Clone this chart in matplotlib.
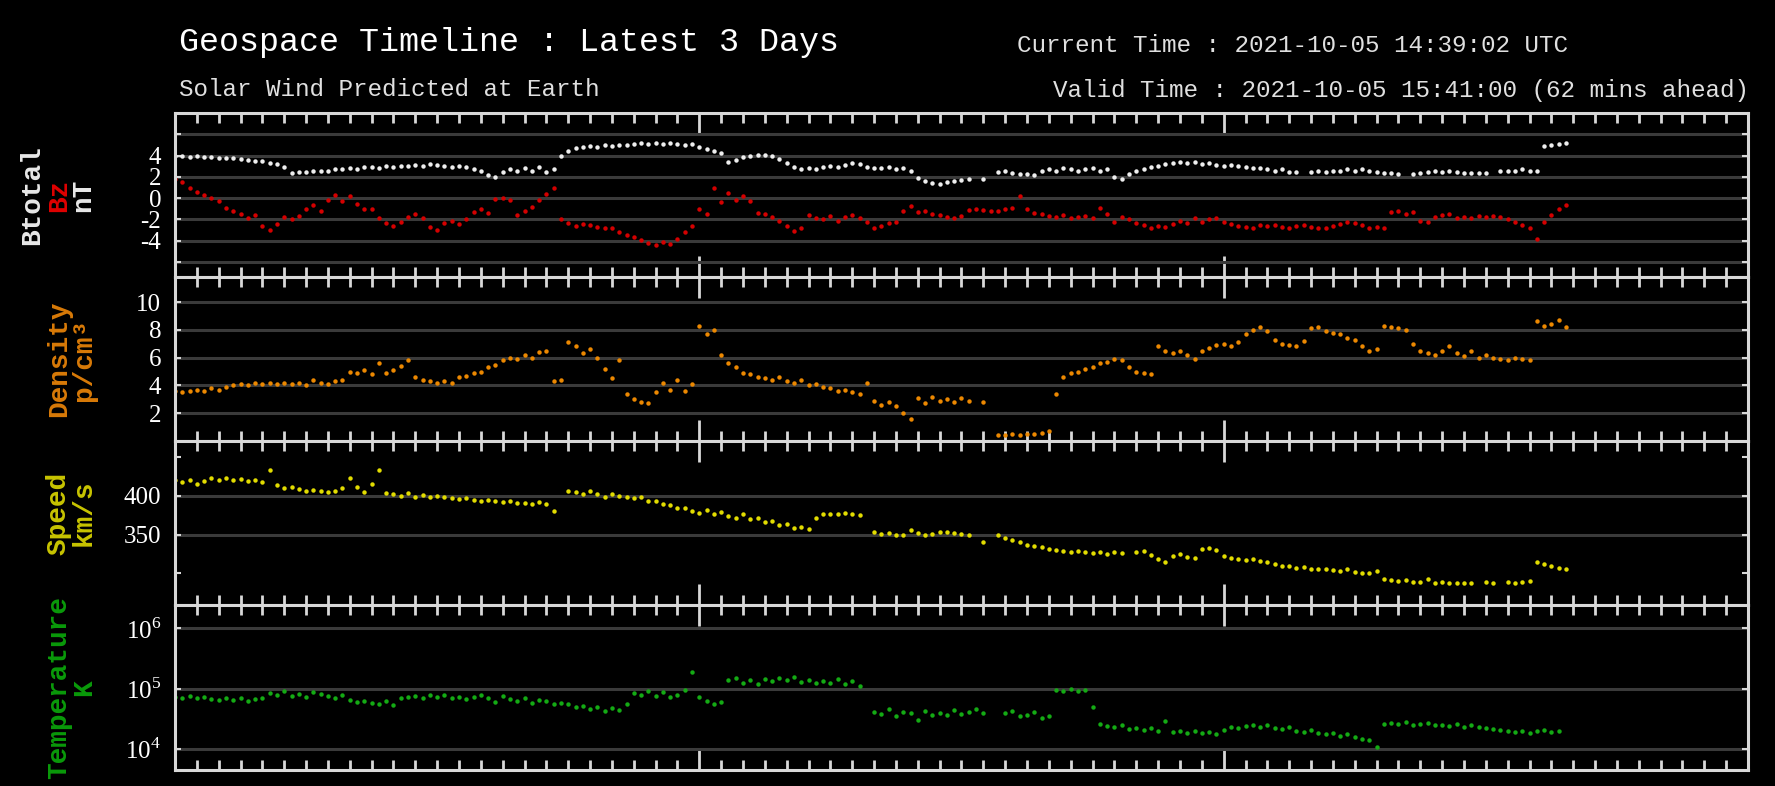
import numpy as np
import pandas as pd
import matplotlib
matplotlib.use('Agg')
import matplotlib.pyplot as plt
import matplotlib.dates as mdates

plt.rcParams['font.family'] = ['Liberation Mono', 'DejaVu Sans']
plt.rcParams['mathtext.fontset'] = 'custom'
plt.rcParams['mathtext.rm'] = 'Liberation Serif'

# 20-minute samples starting 2021-10-03 00:00 UTC
times = pd.date_range('2021-10-03 00:00', periods=192, freq='20min')
nan = None

btotal = [
    4.0, 4.0, 3.9, 4.0, 3.9, 3.9,
    3.8, 3.8, 3.8, 3.7, 3.6, 3.5,
    3.5, 3.3, 3.2, 2.9, 2.4, 2.5,
    2.5, 2.6, 2.6, 2.6, 2.7, 2.7,
    2.8, 2.7, 2.9, 2.9, 2.8, 3.0,
    2.9, 3.0, 3.0, 3.1, 3.0, 3.2,
    3.1, 3.0, 2.9, 3.0, 2.9, 2.7,
    2.6, 2.2, 2.0, 2.5, 2.7, 2.6,
    2.8, 2.6, 2.9, 2.5, 2.7, 4.0,
    4.4, 4.7, 4.8, 4.9, 4.8, 5.0,
    4.9, 5.0, 5.0, 5.1, 5.2, 5.1,
    5.2, 5.1, 5.2, 5.1, 5.0, 5.1,
    4.8, 4.6, 4.4, 4.2, 3.4, 3.6,
    3.9, 4.0, 4.1, 4.1, 4.0, 3.7,
    3.3, 2.9, 2.7, 2.8, 2.7, 2.9,
    3.0, 2.9, 3.1, 3.3, 3.2, 2.9,
    2.8, 2.8, 2.9, 2.7, 2.8, 2.6,
    1.9, 1.6, 1.4, 1.3, 1.5, 1.6,
    1.7, 1.8, nan, 1.8, nan, 2.5,
    2.6, 2.4, 2.3, 2.3, 2.2, 2.6,
    2.7, 2.6, 2.8, 2.7, 2.6, 2.7,
    2.8, 2.6, 2.7, 2.0, 1.8, 2.3,
    2.6, 2.7, 2.9, 3.0, 3.2, 3.3,
    3.4, 3.3, 3.4, 3.2, 3.3, 3.1,
    3.0, 3.1, 3.0, 2.9, 2.8, 2.8,
    2.7, 2.6, 2.7, 2.5, 2.5, nan,
    2.5, 2.6, 2.5, 2.6, 2.6, 2.7,
    2.6, 2.7, 2.6, 2.5, 2.4, 2.4,
    2.3, nan, 2.3, 2.4, 2.5, 2.6,
    2.5, 2.6, 2.5, 2.4, 2.4, 2.4,
    2.4, nan, 2.6, 2.6, 2.6, 2.7,
    2.6, 2.6, 4.9, 5.0, 5.1, 5.2,
]

bz = [
    1.8, 1.5, 1.0, 0.6, 0.3, 0.0,
    -0.3, -0.9, -1.2, -1.5, -1.9, -1.6,
    -2.6, -3.0, -2.4, -1.8, -2.0, -1.7,
    -1.0, -0.6, -1.2, -0.2, 0.3, -0.3,
    0.2, -0.5, -1.0, -1.0, -1.9, -2.3,
    -2.6, -2.2, -1.8, -1.5, -1.9, -2.7,
    -3.0, -2.3, -2.1, -2.4, -2.0, -1.3,
    -1.0, -1.4, -0.1, 0.0, -0.2, -1.6,
    -1.2, -0.8, -0.2, 0.4, 1.0, -2.0,
    -2.3, -2.6, -2.4, -2.5, -2.7, -2.8,
    -2.8, -3.2, -3.5, -3.6, -3.9, -4.2,
    -4.4, -4.1, -4.3, -3.8, -3.2, -2.6,
    -1.0, -1.5, 1.0, -0.4, 0.5, -0.2,
    0.2, -0.3, -1.4, -1.5, -1.8, -2.1,
    -2.6, -3.1, -2.8, -1.6, -1.9, -2.0,
    -1.7, -2.1, -1.8, -1.6, -1.9, -2.2,
    -2.8, -2.6, -2.3, -2.2, -1.2, -0.7,
    -1.3, -1.2, -1.5, -1.6, -1.8, -1.9,
    -1.7, -1.1, -1.0, -1.1, -1.2, -1.2,
    -1.0, -0.9, 0.2, -1.0, -1.4, -1.5,
    -1.7, -1.8, -1.6, -1.9, -1.8, -1.7,
    -1.9, -0.9, -1.5, -2.2, -1.8, -2.0,
    -2.3, -2.5, -2.8, -2.6, -2.7, -2.4,
    -2.1, -2.3, -1.9, -2.2, -2.0, -1.9,
    -2.2, -2.4, -2.6, -2.7, -2.8, -2.5,
    -2.6, -2.5, -2.7, -2.8, -2.6, -2.5,
    -2.7, -2.8, -2.8, -2.6, -2.4, -2.2,
    -2.3, -2.5, -2.8, -2.7, -2.8, -1.3,
    -1.2, -1.5, -1.3, -2.1, -2.2, -1.8,
    -1.6, -1.5, -1.9, -1.8, -1.9, -1.7,
    -1.8, -1.7, -1.8, -2.0, -2.2, -2.5,
    -2.8, -3.8, -2.2, -1.6, -1.0, -0.6,
]

density = [
    3.6, 3.5, 3.6, 3.7, 3.6, 3.8,
    3.7, 3.9, 4.0, 4.1, 4.0, 4.2,
    4.1, 4.2, 4.1, 4.2, 4.1, 4.2,
    4.0, 4.4, 4.2, 4.1, 4.3, 4.4,
    5.0, 4.9, 5.1, 4.8, 5.6, 4.9,
    5.1, 5.4, 5.8, 4.6, 4.4, 4.3,
    4.2, 4.3, 4.2, 4.6, 4.7, 4.9,
    5.0, 5.3, 5.5, 5.8, 6.0, 5.9,
    6.2, 6.0, 6.4, 6.5, 4.3, 4.4,
    7.1, 6.8, 6.3, 6.6, 6.0, 5.2,
    4.5, 5.8, 3.4, 3.0, 2.8, 2.7,
    3.5, 4.2, 3.7, 4.4, 3.6, 4.1,
    8.3, 7.7, 8.0, 6.2, 5.6, 5.3,
    4.9, 4.8, 4.6, 4.5, 4.4, 4.6,
    4.3, 4.2, 4.4, 4.0, 4.1, 3.9,
    3.8, 3.6, 3.7, 3.5, 3.4, 4.2,
    2.9, 2.6, 2.8, 2.5, 2.0, 1.6,
    3.1, 2.7, 3.2, 2.9, 3.0, 2.8,
    3.1, 2.9, nan, 2.8, nan, 0.4,
    0.4, 0.5, 0.4, 0.5, 0.5, 0.6,
    0.7, 3.4, 4.6, 4.9, 5.0, 5.2,
    5.3, 5.6, 5.7, 5.9, 5.8, 5.3,
    5.0, 4.9, 4.8, 6.8, 6.5, 6.3,
    6.5, 6.2, 5.9, 6.5, 6.7, 6.9,
    7.0, 6.8, 7.1, 7.7, 8.0, 8.2,
    7.9, 7.3, 7.0, 6.9, 6.8, 7.2,
    8.1, 8.2, 7.9, 7.8, 7.7, 7.4,
    7.3, 6.8, 6.5, 6.6, 8.3, 8.2,
    8.1, 8.0, 7.0, 6.5, 6.3, 6.2,
    6.5, 6.8, 6.3, 6.1, 6.5, 6.0,
    6.2, 6.0, 5.9, 5.8, 6.0, 5.9,
    5.8, 8.6, 8.3, 8.4, 8.7, 8.2,
]

speed = [
    420, 418, 421, 416, 419, 423,
    421, 423, 420, 422, 419, 421,
    418, 433, 414, 410, 411, 409,
    407, 408, 406, 405, 407, 410,
    423, 412, 405, 415, 433, 404,
    402, 400, 404, 399, 401, 398,
    400, 398, 397, 396, 397, 395,
    394, 395, 393, 392, 393, 391,
    391, 390, 392, 390, 381, nan,
    407, 405, 403, 406, 402, 398,
    403, 400, 399, 397, 398, 394,
    393, 390, 388, 384, 385, 380,
    378, 382, 376, 379, 374, 372,
    377, 370, 372, 366, 368, 362,
    364, 358, 360, 357, 372, 377,
    376, 377, 378, 376, 375, nan,
    353, 351, 352, 350, 349, 356,
    352, 349, 351, 353, 354, 352,
    351, 350, nan, 340, nan, 349,
    346, 343, 340, 337, 335, 334,
    332, 330, 329, 328, 329, 327,
    326, 328, 325, 327, 326, nan,
    328, 329, 323, 318, 315, 322,
    325, 321, 320, 331, 333, 330,
    322, 320, 318, 317, 318, 316,
    314, 312, 309, 310, 307, 308,
    306, 305, 306, 304, 303, 305,
    302, 301, 300, 303, 292, 291,
    290, 291, 289, 289, 292, 288,
    289, 287, 288, 288, 287, nan,
    289, 288, nan, 289, 288, 289,
    290, 314, 312, 310, 307, 305,
]

# log10 of proton temperature in K
temp_log10 = [
    4.87, 4.85, 4.88, 4.84, 4.86, 4.83,
    4.82, 4.85, 4.81, 4.84, 4.80, 4.83,
    4.85, 4.93, 4.90, 4.96, 4.88, 4.91,
    4.87, 4.95, 4.92, 4.88, 4.84, 4.90,
    4.82, 4.78, 4.80, 4.76, 4.74, 4.79,
    4.73, 4.85, 4.87, 4.88, 4.84, 4.89,
    4.86, 4.90, 4.85, 4.87, 4.83, 4.86,
    4.89, 4.85, 4.78, 4.88, 4.83, 4.80,
    4.84, 4.76, 4.82, 4.79, 4.75, 4.77,
    4.74, 4.70, 4.72, 4.66, 4.70, 4.63,
    4.68, 4.64, 4.74, 4.93, 4.90, 4.96,
    4.88, 4.94, 4.86, 4.90, 4.98, 5.28,
    4.86, 4.80, 4.75, 4.78, 5.15, 5.17,
    5.10, 5.14, 5.08, 5.16, 5.12, 5.18,
    5.14, 5.20, 5.11, 5.15, 5.09, 5.13,
    5.10, 5.16, 5.07, 5.12, 5.05, nan,
    4.62, 4.58, 4.66, 4.55, 4.62, 4.60,
    4.48, 4.63, 4.57, 4.60, 4.56, 4.64,
    4.58, 4.62, 4.66, 4.60, nan, nan,
    4.60, 4.63, 4.55, 4.57, 4.62, 4.52,
    4.55, 4.98, 4.97, 4.99, 4.96, 4.98,
    4.70, 4.42, 4.38, 4.36, 4.40, 4.33,
    4.34, 4.31, 4.35, 4.30, 4.46, 4.28,
    4.29, 4.27, 4.30, 4.26, 4.28, 4.24,
    4.32, 4.36, 4.34, 4.38, 4.40, 4.37,
    4.39, 4.35, 4.33, 4.36, 4.30, 4.28,
    4.31, 4.27, 4.25, 4.26, 4.22, 4.24,
    4.20, 4.16, 4.14, 4.04, 4.41, 4.43,
    4.42, 4.44, 4.40, 4.41, 4.43, 4.39,
    4.40, 4.38, 4.41, 4.37, 4.39, 4.36,
    4.35, 4.33, 4.31, 4.30, 4.28, 4.29,
    4.27, 4.29, 4.31, 4.28, 4.30, nan,
]

btotal = np.array(btotal, dtype=float)
bz = np.array(bz, dtype=float)
density = np.array(density, dtype=float)
speed = np.array(speed, dtype=float)
temperature = 10 ** np.array(temp_log10, dtype=float)

W, H = 1775, 786
fig = plt.figure(figsize=(W / 100, H / 100), dpi=100, facecolor='black')

frame_col = '#d8d8d8'
grid_col = '#3a3a3a'
tick_font = dict(family=['Liberation Serif', 'DejaVu Serif'], size=18)

left = 175 / W
width = (1748 - 175) / W
edges = [113, 277, 441, 605, 770]

axes = []
for i in range(4):
    top, bot = edges[i], edges[i + 1]
    ax = fig.add_axes([left, 1 - bot / H, width, (bot - top) / H], facecolor='black')
    for s in ax.spines.values():
        s.set_color(frame_col)
        s.set_linewidth(2.2)
    ax.set_xlim(pd.Timestamp('2021-10-03'), pd.Timestamp('2021-10-06'))
    ax.xaxis.set_major_locator(mdates.DayLocator())
    ax.xaxis.set_minor_locator(mdates.HourLocator())
    ax.tick_params(axis='x', which='both', direction='in', top=True, bottom=True,
                   labelbottom=False, color=frame_col, width=2)
    ax.tick_params(axis='x', which='major', length=15)
    ax.tick_params(axis='x', which='minor', length=7)
    ax.tick_params(axis='y', which='both', direction='in', left=True, right=True,
                   color=frame_col, width=1.5, length=4, pad=10, labelcolor='white')
    ax.grid(axis='y', which='major', color=grid_col, linewidth=2.2)
    ax.set_axisbelow(True)
    axes.append(ax)

ax1, ax2, ax3, ax4 = axes
dot = dict(ls='none', marker='o', ms=3.2, mew=0)

# magnetic field
ax1.plot(times, bz, color='#d40000', **dot)
ax1.plot(times, btotal, color='#eeeeee', **dot)
ax1.set_ylim(-7.4, 8.0)
ax1.set_yticks([-6, -4, -2, 0, 2, 4, 6])
ax1.set_yticklabels(['', '-4', '-2', '0', '2', '4', ''], **tick_font)

# density
ax2.plot(times, density, color='#ec8800', **dot)
ax2.set_ylim(0.0, 11.8)
ax2.set_yticks([2, 4, 6, 8, 10])
ax2.set_yticklabels(['2', '4', '6', '8', '10'], **tick_font)

# speed
ax3.plot(times, speed, color='#e2dc00', **dot)
ax3.set_ylim(259, 471)
ax3.set_yticks([350, 400])
ax3.set_yticklabels(['350', '400'], **tick_font)
ax3.set_yticks([300, 450], minor=True)

# temperature
ax4.plot(times, temperature, color='#14aa14', **dot)
ax4.set_yscale('log')
ax4.set_ylim(10 ** 3.65, 10 ** 6.39)
ax4.set_yticks([1e4, 1e5, 1e6])
ax4.set_yticks([], minor=True)
ax4.set_yticklabels([r'$10^4$', r'$10^5$', r'$10^6$'], **tick_font)

# axis titles down the left side
lab = dict(rotation=90, ha='center', va='center', fontsize=20, fontweight='bold')
def side_label(x, panel, txt, col, dy=0):
    yc = 1 - ((edges[panel] + edges[panel + 1]) / 2 + dy) / H
    fig.text(x / W, yc, txt, color=col, **lab)

side_label(32, 0, 'Btotal', '#e8e8e8')
side_label(59, 0, 'Bz', '#e00000')
side_label(83, 0, 'nT', '#e8e8e8')
side_label(59, 1, 'Density', '#d87a08')
side_label(84, 1, 'p/cm³', '#d87a08')
side_label(59, 2, 'Speed', '#c8c400', dy=-10)
side_label(84, 2, 'km/s', '#c8c400', dy=-10)
side_label(59, 3, 'Temperature', '#0a9a0a')
side_label(84, 3, 'K', '#0a9a0a')

# header
fig.text(179 / W, 1 - 42 / H, 'Geospace Timeline : Latest 3 Days', color='white',
         fontsize=24, ha='left', va='center')
fig.text(179 / W, 1 - 90 / H, 'Solar Wind Predicted at Earth', color='#e0e0e0',
         fontsize=17.5, ha='left', va='center')
fig.text(1017 / W, 1 - 46 / H, 'Current Time : 2021-10-05 14:39:02 UTC', color='#e0e0e0',
         fontsize=17.5, ha='left', va='center')
fig.text(1749 / W, 1 - 90 / H, 'Valid Time : 2021-10-05 15:41:00 (62 mins ahead)',
         color='#e0e0e0', fontsize=17.5, ha='right', va='center')

fig.savefig('out.png', dpi=100, facecolor='black')
